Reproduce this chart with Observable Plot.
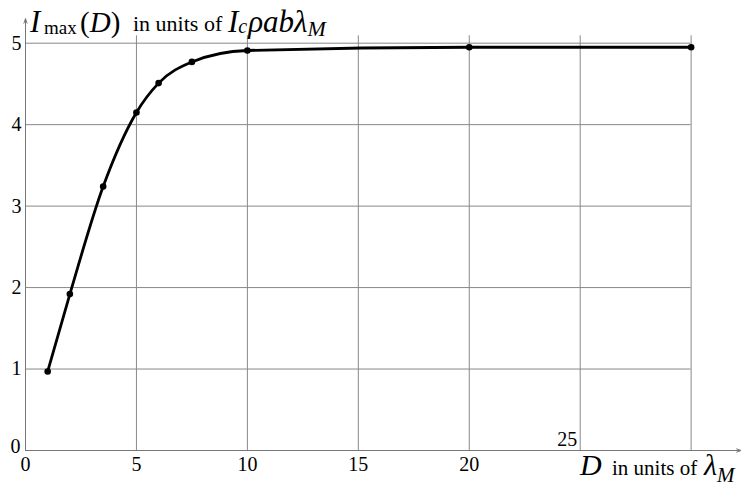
<!DOCTYPE html>
<html>
<head>
<meta charset="utf-8">
<script src="https://cdn.jsdelivr.net/npm/d3@7"></script>
<script src="https://cdn.jsdelivr.net/npm/@observablehq/plot@0.6"></script>
<style>
  html, body { margin: 0; padding: 0; background: #fff; }
  svg { display: block; }
  svg text, svg tspan { font-family: "Liberation Serif", "Times New Roman", "DejaVu Serif", serif; }
</style>
</head>
<body>
<div id="chart"></div>
<script>
// Data
const D = [1, 2, 3.5, 5, 6, 7.5, 10, 20, 30];
const Imax = [0.97, 1.92, 3.24, 4.15, 4.51, 4.77, 4.91, 4.95, 4.95];
const xTicks = [0, 5, 10, 15, 20];
const xTickRaised = [25];
const xGrid = [5, 10, 15, 20, 25, 30];
const yTicks = [1, 2, 3, 4, 5];
const yTickZero = [0];
const yGrid = [1, 2, 3, 4, 5];

const data = D.map((d, i) => ({D: d, I: Imax[i]}));
const serif = "Liberation Serif, Times New Roman, serif";
const gridColor = "#888";
const axisColor = "#777";
const tickFont = {fontSize: 20, fontFamily: serif, fill: "#000", textAnchor: "middle"};

const svg = Plot.plot({
  width: 741,
  height: 486,
  marginLeft: 25,
  marginRight: 0,
  marginTop: 0,
  marginBottom: 36,
  x: {domain: [0, 32.27], axis: null},
  y: {domain: [0, 5.524], axis: null},
  style: {background: "#fff", overflow: "visible"},
  marks: [
    Plot.ruleY(yGrid, {y: d => d, x1: 0, x2: 30, stroke: gridColor, strokeWidth: 1}),
    Plot.ruleX(xGrid, {x: d => d, y1: 0, y2: 5.09, stroke: gridColor, strokeWidth: 1}),
    Plot.arrow([0], {x1: 0, y1: 0, x2: 32.25, y2: 0, stroke: axisColor, strokeWidth: 1, headLength: 7, headAngle: 40, bend: 0}),
    Plot.arrow([0], {x1: 0, y1: 0, x2: 0, y2: 5.30, stroke: axisColor, strokeWidth: 1, headLength: 7, headAngle: 40, bend: 0}),
    Plot.line(data, {x: "D", y: "I", curve: "monotone-x", stroke: "#000", strokeWidth: 2.8}),
    Plot.dot(data, {x: "D", y: "I", r: 3.3, fill: "#000", stroke: "none"}),
    // y tick labels
    Plot.text(yTicks, {x: 0, y: d => d, text: d => String(d), dx: -9, ...tickFont}),
    Plot.text(yTickZero, {x: 0, y: d => d, text: d => String(d), dx: -10, dy: -4, ...tickFont}),
    // x tick labels
    Plot.text(xTicks, {x: d => d, y: 0, text: d => String(d), dy: 14, ...tickFont}),
    Plot.text(xTickRaised, {x: d => d, y: 0, text: d => String(d), dx: -13, dy: -11, ...tickFont})
  ]
});

document.getElementById("chart").appendChild(svg);

const s = d3.select(svg);

// y-axis title
const t = s.append("text")
  .attr("text-anchor", "start")
  .attr("fill", "#000")
  .attr("y", 32);
t.append("tspan").attr("x", 30).attr("font-size", 31).attr("font-style", "italic").text("I");
t.append("tspan").attr("x", 44).attr("font-size", 19).attr("dy", 2).text("max");
t.append("tspan").attr("x", 80).attr("font-size", 29).attr("dy", -2).text("(");
t.append("tspan").attr("font-size", 29).attr("font-style", "italic").text("D");
t.append("tspan").attr("font-size", 29).text(")");
t.append("tspan").attr("x", 133).attr("font-size", 22).attr("dy", -1).text("in units of");
t.append("tspan").attr("x", 228).attr("font-size", 31).attr("font-style", "italic").attr("dy", 1).text("I");
t.append("tspan").attr("font-size", 20).attr("font-style", "italic").attr("dy", 1).text("c");
t.append("tspan").attr("font-size", 31).attr("font-style", "italic").attr("dy", -1).attr("dx", 1).text("ρab");
t.append("tspan").attr("font-size", 31).attr("font-style", "italic").text("λ");
t.append("tspan").attr("font-size", 22).attr("font-style", "italic").attr("dy", 4).text("M");

// x-axis title
const u = s.append("text")
  .attr("text-anchor", "start")
  .attr("fill", "#000")
  .attr("y", 475);
u.append("tspan").attr("x", 580).attr("font-size", 30).attr("font-style", "italic").text("D");
u.append("tspan").attr("x", 612).attr("font-size", 21).text("in units of");
u.append("tspan").attr("x", 704).attr("font-size", 30).attr("font-style", "italic").text("λ");
u.append("tspan").attr("font-size", 21).attr("font-style", "italic").attr("dy", 7).text("M");
</script>
</body>
</html>
